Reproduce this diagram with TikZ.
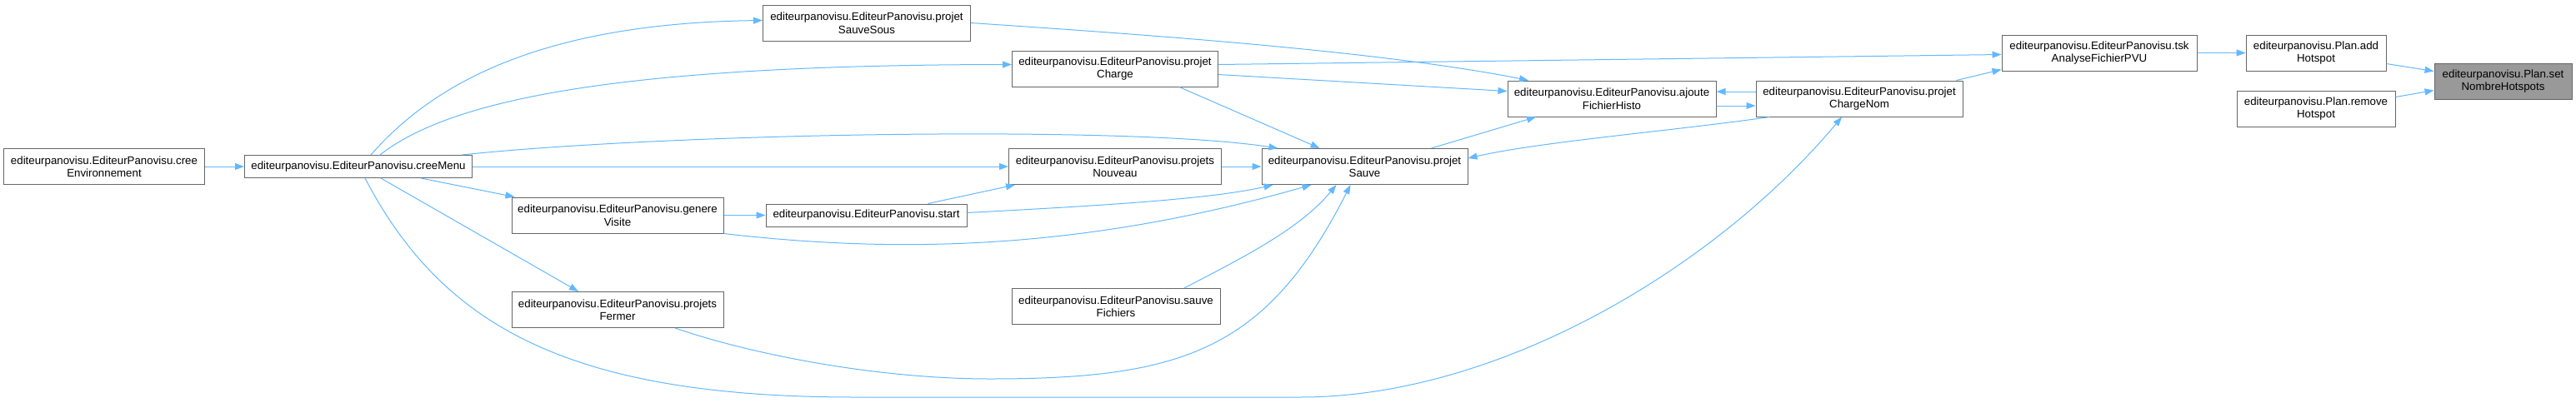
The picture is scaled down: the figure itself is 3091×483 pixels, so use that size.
\documentclass[tikz,border=0pt]{standalone}
\usepackage{fontspec}
\setmainfont{Liberation Sans}
\usetikzlibrary{arrows.meta}
\definecolor{edgeblue}{HTML}{63B8FF}
\definecolor{boxline}{HTML}{666666}
\definecolor{focusfill}{HTML}{999999}

\begin{document}
\begin{tikzpicture}[x=1pt, y=-1pt, >={Triangle[length=11pt, width=8pt]},
  fn/.style={draw=boxline, fill=white, line width=1pt, align=center, inner sep=2pt,
    font=\fontsize{13.3}{15.5}\selectfont, minimum height=43pt},
  fn1/.style={fn, minimum height=27pt},
  focus/.style={fn, fill=focusfill},
  edge/.style={->, color=edgeblue, line width=1pt}]
  \useasboundingbox (0,0) rectangle (3091,483);

  % callers, left to right
  \node[fn, minimum width=241pt] (env) at (125,200) {editeurpanovisu.EditeurPanovisu.cree\\Environnement};
  \node[fn1, minimum width=273pt] (menu) at (430,200) {editeurpanovisu.EditeurPanovisu.creeMenu};
  \node[fn, minimum width=254pt] (visite) at (741,258.5) {editeurpanovisu.EditeurPanovisu.genere\\Visite};
  \node[fn, minimum width=254pt] (fermer) at (741,372) {editeurpanovisu.EditeurPanovisu.projets\\Fermer};
  \node[fn, minimum width=249pt] (sauvesous) at (1040,27.5) {editeurpanovisu.EditeurPanovisu.projet\\SauveSous};
  \node[fn1, minimum width=241pt] (start) at (1039.5,258.5) {editeurpanovisu.EditeurPanovisu.start};
  \node[fn, minimum width=247pt] (charge) at (1338,82.5) {editeurpanovisu.EditeurPanovisu.projet\\Charge};
  \node[fn, minimum width=255pt] (nouveau) at (1338,200) {editeurpanovisu.EditeurPanovisu.projets\\Nouveau};
  \node[fn, minimum width=250pt] (fichiers) at (1339,368) {editeurpanovisu.EditeurPanovisu.sauve\\Fichiers};
  \node[fn, minimum width=247pt] (sauve) at (1637.5,200) {editeurpanovisu.EditeurPanovisu.projet\\Sauve};
  \node[fn, minimum width=250pt] (histo) at (1934,118.5) {editeurpanovisu.EditeurPanovisu.ajoute\\FichierHisto};
  \node[fn, minimum width=248pt] (chargenom) at (2231,118.5) {editeurpanovisu.EditeurPanovisu.projet\\ChargeNom};
  \node[fn, minimum width=234pt] (tsk) at (2519,63.5) {editeurpanovisu.EditeurPanovisu.tsk\\AnalyseFichierPVU};
  \node[fn, minimum width=168pt] (add) at (2779,63.5) {editeurpanovisu.Plan.add\\Hotspot};
  \node[fn, minimum width=190pt] (remove) at (2779,130.5) {editeurpanovisu.Plan.remove\\Hotspot};
  \node[focus, minimum width=165pt] (setnb) at (3003.5,97.5) {editeurpanovisu.Plan.set\\NombreHotspots};

  % calls
  \draw[edge] (env) -- (menu);
  \draw[edge] ([xshift=15pt]menu.north) .. controls (520,100) and (650,28) .. ([yshift=3pt]sauvesous.west);
  \draw[edge] ([xshift=26pt]menu.north) .. controls (540,120) and (740,78) .. ([yshift=5pt]charge.west);
  \draw[edge] ([xshift=124pt]menu.north) .. controls (800,160) and (1350,150) .. ([xshift=-104pt]sauve.north);
  \draw[edge] (menu) -- (nouveau);
  \draw[edge] ([xshift=75pt]menu.south) -- ([xshift=4pt]visite.north west);
  \draw[edge] ([xshift=27pt]menu.south) -- ([xshift=-47pt]fermer.north);
  \draw[edge] ([xshift=8pt]menu.south) .. controls (530,390) and (680,477) .. (1026,477) -- (1560,477)
    .. controls (1800,477) and (2060,320) .. ([xshift=-21pt]chargenom.south);

  \draw[edge] (sauvesous.east) .. controls (1350,40) and (1650,60) .. ([xshift=-100pt]histo.north);
  \draw[edge] ([yshift=-7pt]charge.east) -- ([yshift=9pt]histo.west);
  \draw[edge] ([yshift=5pt]charge.east) -- ([yshift=-2pt]tsk.west);
  \draw[edge] ([xshift=77pt]charge.south) -- ([xshift=-54pt]sauve.north);
  \draw[edge] (nouveau) -- (sauve);
  \draw[edge] ([xshift=74pt]start.north) -- ([xshift=8pt]nouveau.south west);
  \draw[edge] ([yshift=3pt]start.east) .. controls (1300,248) and (1450,240) .. ([xshift=-110pt]sauve.south);
  \draw[edge] (visite) -- (start);
  \draw[edge] (visite.south east) .. controls (1080,305) and (1300,300) .. ([xshift=-64pt]sauve.south);
  \draw[edge] ([xshift=82pt]fichiers.north) .. controls (1490,310) and (1560,275) .. ([xshift=-34pt]sauve.south);
  \draw[edge] ([xshift=69pt]fermer.south) .. controls (900,425) and (1050,455) .. (1188,455)
    .. controls (1420,455) and (1520,420) .. ([xshift=-17pt]sauve.south);

  \draw[edge] ([xshift=80pt]sauve.north) -- ([xshift=-91pt]histo.south);
  \draw[edge] ([yshift=-8.5pt]histo.east) -- ([yshift=-8.5pt]chargenom.west);
  \draw[edge] ([yshift=8.5pt]chargenom.west) -- ([yshift=8.5pt]histo.east);
  \draw[edge] ([xshift=17pt]chargenom.south west) .. controls (2000,158) and (1850,170) .. ([yshift=10pt]sauve.east);
  \draw[edge] ([xshift=-8pt]chargenom.north east) -- ([yshift=2pt]tsk.south west);
  \draw[edge] (tsk) -- (add);
  \draw[edge] ([yshift=-13pt]add.east) -- ([yshift=12pt]setnb.west);
  \draw[edge] ([yshift=14pt]remove.east) -- ([yshift=-11pt]setnb.west);
\end{tikzpicture}
\end{document}
